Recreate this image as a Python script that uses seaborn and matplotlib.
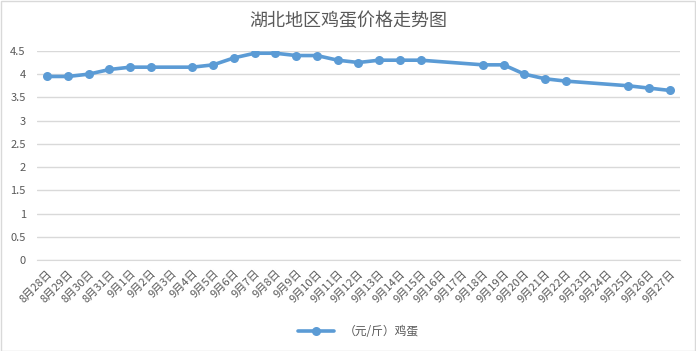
import numpy as np
import pandas as pd
import matplotlib
matplotlib.use("Agg")
import matplotlib.pyplot as plt
import seaborn as sns
from matplotlib.ticker import FuncFormatter, FixedLocator

# dates on the x axis (category axis, some days without price)
dates = ["8月28日", "8月29日", "8月30日", "8月31日"] + [f"9月{d}日" for d in range(1, 28)]
prices = [3.95, 3.95, 4.0, 4.1, 4.15, 4.15, np.nan, 4.15, 4.2, 4.35,
          4.45, 4.45, 4.4, 4.4, 4.3, 4.25, 4.3, 4.3, 4.3, np.nan,
          np.nan, 4.2, 4.2, 4.0, 3.9, 3.85, np.nan, np.nan, 3.75, 3.7, 3.65]
series_name = "（元/斤）鸡蛋"
title = "湖北地区鸡蛋价格走势图"

sns.set_style("white")
plt.rcParams['font.family'] = ['Noto Sans CJK SC', 'DejaVu Sans']

df = pd.DataFrame({"pos": np.arange(len(dates)), "price": prices}).dropna()

fig = plt.figure(figsize=(6.96, 3.51), dpi=100)
ax = fig.add_axes([0.053, 0.259, 0.924, 0.596])

sns.lineplot(data=df, x="pos", y="price", ax=ax, color="#5B9BD5", linewidth=2.6,
             marker="o", markersize=6.5, markeredgewidth=0, label=series_name)

ax.set_xlim(-0.5, len(dates) - 0.5)
ax.set_ylim(0, 4.5)
ax.set_yticks(np.arange(0, 4.51, 0.5))
ax.yaxis.set_major_formatter(FuncFormatter(lambda v, p: f"{v:g}"))
ax.yaxis.grid(True, color="#D9D9D9", linewidth=1)
ax.set_axisbelow(True)

ax.set_xticks(np.arange(len(dates)))
ax.set_xticklabels(dates, rotation=45, ha="right", rotation_mode="anchor")
ax.xaxis.set_minor_locator(FixedLocator(np.arange(-0.5, len(dates), 1)))
ax.tick_params(axis="x", which="major", length=0, pad=6, labelsize=8, labelcolor="#595959")
ax.tick_params(axis="x", which="minor", length=4, color="#D9D9D9", width=1)
ax.tick_params(axis="y", length=0, labelsize=8, labelcolor="#595959", pad=8)
ax.set_xlabel("")
ax.set_ylabel("")

for s in ["top", "right", "left"]:
    ax.spines[s].set_visible(False)
ax.spines["bottom"].set_color("#D9D9D9")

fig.suptitle(title, y=0.965, fontsize=13, color="#595959")

ax.legend(loc="upper center", bbox_to_anchor=(0.5, -0.26), frameon=False,
          fontsize=8.5, labelcolor="#595959", handlelength=3)

# chart area border
fig.patches.append(plt.Rectangle((0.001, 0.001), 0.997, 0.997, transform=fig.transFigure,
                                 fill=False, edgecolor="#D9D9D9", linewidth=1))

fig.savefig("out.png", dpi=100)
